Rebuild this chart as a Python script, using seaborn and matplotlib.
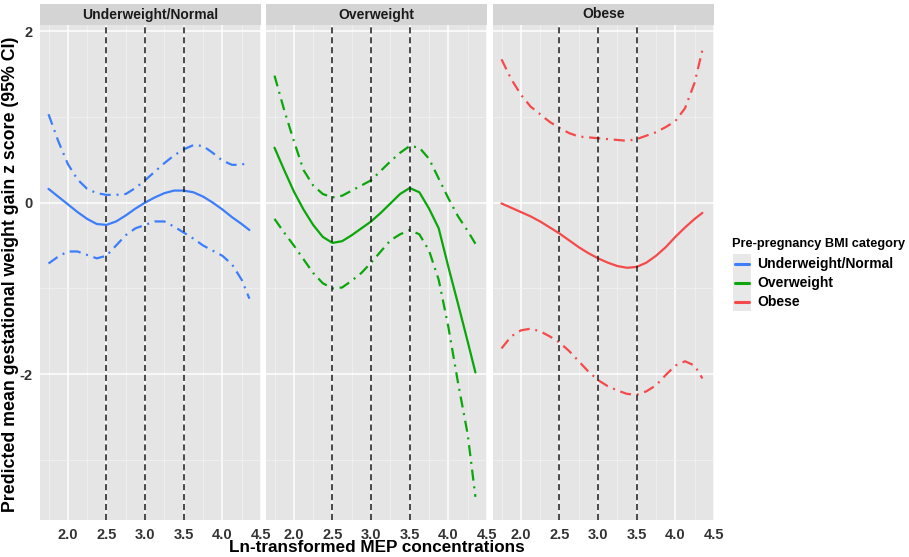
import numpy as np
import pandas as pd
import matplotlib
matplotlib.use("Agg")
import matplotlib.pyplot as plt
import seaborn as sns
from matplotlib.lines import Line2D
from matplotlib.patches import Rectangle

# ---------------- data ----------------
panels = ["Underweight/Normal", "Overweight", "Obese"]
colors = ["#3d7ef8", "#0aa60a", "#f44a4a"]

x_grid = [1.75, 1.875, 2.0, 2.125, 2.25, 2.375, 2.5, 2.625, 2.75, 2.875, 3.0,
          3.125, 3.25, 3.375, 3.5, 3.625, 3.75, 3.875, 4.0, 4.125, 4.25, 4.35]

under_mean = [0.16, 0.07, -0.02, -0.11, -0.19, -0.25, -0.26, -0.22, -0.15, -0.07, 0.00,
              0.06, 0.11, 0.14, 0.14, 0.12, 0.07, 0.00, -0.08, -0.17, -0.25, -0.32]
under_upper = [1.03, 0.72, 0.45, 0.27, 0.16, 0.11, 0.09, 0.09, 0.10, 0.17, 0.26,
               0.36, 0.46, 0.55, 0.62, 0.67, 0.66, 0.58, 0.49, 0.44, 0.44, 0.48]
under_lower = [-0.71, -0.63, -0.57, -0.57, -0.61, -0.65, -0.62, -0.50, -0.38, -0.30, -0.26,
               -0.22, -0.22, -0.28, -0.35, -0.42, -0.50, -0.56, -0.62, -0.72, -0.90, -1.12]

over_mean = [0.64, 0.38, 0.13, -0.08, -0.26, -0.40, -0.47, -0.45, -0.38, -0.30, -0.22,
             -0.12, -0.01, 0.10, 0.17, 0.12, -0.07, -0.30, -0.75, -1.18, -1.62, -1.98]
over_upper = [1.48, 1.08, 0.72, 0.38, 0.20, 0.10, 0.06, 0.08, 0.14, 0.20, 0.26,
              0.37, 0.48, 0.58, 0.66, 0.64, 0.51, 0.28, 0.05, -0.16, -0.33, -0.48]
over_lower = [-0.19, -0.35, -0.50, -0.66, -0.82, -0.94, -1.00, -0.99, -0.91, -0.82, -0.70,
              -0.57, -0.44, -0.37, -0.32, -0.37, -0.56, -0.90, -1.45, -2.10, -2.70, -3.43]

obese_mean = [-0.01, -0.06, -0.11, -0.16, -0.22, -0.29, -0.36, -0.44, -0.52, -0.59, -0.65,
              -0.70, -0.74, -0.76, -0.75, -0.70, -0.62, -0.52, -0.40, -0.29, -0.19, -0.12]
obese_upper = [1.67, 1.44, 1.26, 1.12, 1.03, 0.94, 0.87, 0.81, 0.77, 0.76, 0.75,
               0.74, 0.73, 0.72, 0.74, 0.78, 0.82, 0.88, 0.95, 1.10, 1.40, 1.78]
obese_lower = [-1.70, -1.56, -1.49, -1.47, -1.50, -1.56, -1.63, -1.73, -1.85, -1.97, -2.07,
               -2.14, -2.19, -2.23, -2.24, -2.20, -2.13, -2.01, -1.90, -1.85, -1.90, -2.05]

cutpoints = [2.5, 3.0, 3.5]
x_ticks = [2.0, 2.5, 3.0, 3.5, 4.0, 4.5]
x_tick_labels = ["2.0", "2.5", "3.0", "3.5", "4.0", "4.5"]
y_ticks = [-2, 0, 2]
y_tick_labels = ["-2", "0", "2"]
legend_title = "Pre-pregnancy BMI category"

series = {
    "Underweight/Normal": (under_mean, under_lower, under_upper),
    "Overweight": (over_mean, over_lower, over_upper),
    "Obese": (obese_mean, obese_lower, obese_upper),
}

# ---------------- styling ----------------
sns.set_theme(style="darkgrid")
plt.rcParams["font.family"] = ["Liberation Sans", "DejaVu Sans"]
plt.rcParams["font.weight"] = "bold"

W, H = 909, 557
fig = plt.figure(figsize=(W / 100, H / 100), dpi=100)

panel_left = [40, 266, 493]
panel_w = 221
panel_top, panel_bot = 25, 520

def fx(px):
    return px / W

def fy(py):
    return 1 - py / H

axes = []
for i, name in enumerate(panels):
    ax = fig.add_axes([fx(panel_left[i]), fy(panel_bot), panel_w / W, (panel_bot - panel_top) / H])
    axes.append(ax)
    ax.set_facecolor("#E5E5E5")
    mean, lower, upper = series[name]
    df = pd.DataFrame({"x": x_grid, "mean": mean, "lower": lower, "upper": upper})
    for col in ["upper", "lower"]:
        sns.lineplot(data=df, x="x", y=col, ax=ax, color=colors[i], linewidth=1.6, estimator=None)
        ax.lines[-1].set_dashes([5, 2.6, 0.9, 2.6])
        ax.lines[-1].set_dash_capstyle("butt")
    sns.lineplot(data=df, x="x", y="mean", ax=ax, color=colors[i], linewidth=1.6, estimator=None)
    for c in cutpoints:
        ax.axvline(c, color="#1a1a1a", linewidth=1.1, dashes=(4, 2.5), zorder=3)

    ax.set_xlim(1.64, 4.5)
    ax.set_ylim(-3.70, 2.07)
    ax.set_xticks(x_ticks)
    ax.set_xticklabels(x_tick_labels)
    ax.set_yticks(y_ticks)
    ax.set_xticks([1.75, 2.25, 2.75, 3.25, 3.75, 4.25], minor=True)
    ax.set_yticks([-3, -1, 1], minor=True)
    ax.grid(which="major", color="white", linewidth=1.1)
    ax.grid(which="minor", color="#F2F2F2", linewidth=0.55)
    ax.set_axisbelow(True)
    for s in ax.spines.values():
        s.set_visible(False)
    ax.tick_params(axis="both", which="major", length=3, width=0.8, color="#333333",
                   labelsize=10.5, labelcolor="#333333", pad=2.5)
    ax.tick_params(which="minor", length=0)
    if i == 0:
        ax.set_yticklabels(y_tick_labels)
    else:
        ax.tick_params(axis="y", which="major", length=0, labelleft=False)
    for lab in ax.get_xticklabels() + ax.get_yticklabels():
        lab.set_fontweight("bold")
    ax.set_xlabel("")
    ax.set_ylabel("")

    # strip
    fig.add_artist(Rectangle((fx(panel_left[i]), fy(panel_top)), panel_w / W, 21 / H,
                             transform=fig.transFigure, facecolor="#D4D4D4",
                             edgecolor="none", zorder=1))
    fig.text(fx(panel_left[i] + panel_w / 2), fy(14.5), name, ha="center", va="center",
             fontsize=10, fontweight="bold", color="#1a1a1a")

fig.text(fx(377), fy(548), "Ln-transformed MEP concentrations", ha="center", va="center",
         fontsize=12.3, fontweight="bold", color="black")
fig.text(fx(10.5), fy(274), "Predicted mean gestational weight gain z score (95% CI)",
         ha="center", va="center", rotation=90, fontsize=12.8, fontweight="bold", color="black")

# legend (drawn as figure-level artists for exact placement)
fig.add_artist(Rectangle((fx(733), fy(311)), 18 / W, 57 / H, transform=fig.transFigure,
                         facecolor="#E8E8E8", edgecolor="none", zorder=1))
fig.text(fx(732), fy(244), legend_title, ha="left", va="center",
         fontsize=9.2, fontweight="bold", color="black")
for name, c, yy in zip(panels, colors, [264, 283, 302]):
    fig.add_artist(Line2D([fx(735), fx(749)], [fy(yy), fy(yy)], transform=fig.transFigure,
                          color=c, linewidth=2.2, zorder=2))
    fig.text(fx(757), fy(yy), name, ha="left", va="center",
             fontsize=10, fontweight="bold", color="black")

fig.savefig("out.png", dpi=100)
